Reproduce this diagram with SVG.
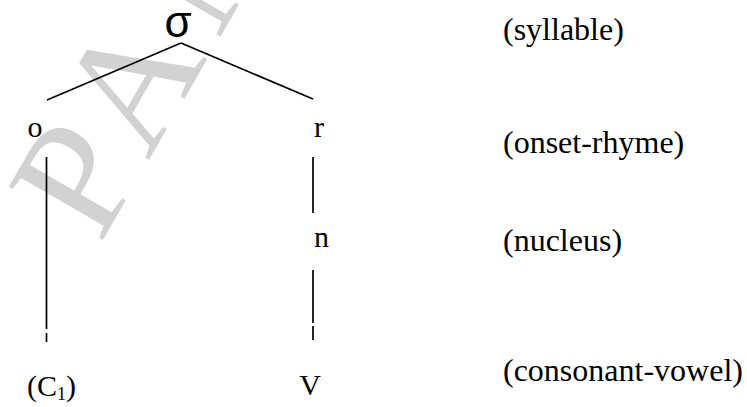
<svg xmlns="http://www.w3.org/2000/svg" width="747" height="407" viewBox="0 0 747 407">
<style>
.lbl{font-family:"Liberation Serif","Times New Roman",serif;font-size:32px;fill:#000}
.tl{font-family:"Liberation Serif","Times New Roman",serif;font-size:30px;fill:#000}
.edge{stroke:#000;stroke-width:1.7;fill:none}
.wm{font-family:"Liberation Serif","Times New Roman",serif;font-size:165px;fill:#d2d2d2}
</style>
<rect width="747" height="407" fill="#fff"/>
<text class="wm" transform="translate(100,245) rotate(-60)" letter-spacing="20">PAN</text>
<g id="connectors">
<line class="edge" x1="181" y1="43" x2="47" y2="100"/>
<line class="edge" x1="181" y1="43" x2="313" y2="99"/>
<line class="edge" x1="46.5" y1="157" x2="46.5" y2="329"/>
<line class="edge" x1="46.5" y1="333" x2="46.5" y2="342"/>
<line class="edge" x1="313" y1="157" x2="313" y2="213"/>
<line class="edge" x1="313" y1="270" x2="313" y2="323"/>
<line class="edge" x1="313" y1="326" x2="313" y2="340"/>
</g>
<g id="node-sigma"><text x="178" y="37" text-anchor="middle" style="font-family:'Liberation Sans',Arial,sans-serif;font-size:44px">σ</text></g>
<g id="node-o"><text class="tl" x="35" y="137" text-anchor="middle">o</text></g>
<g id="node-r"><text class="tl" x="314" y="137">r</text></g>
<g id="node-n"><text class="tl" x="314" y="247">n</text></g>
<g id="node-c1"><text class="tl" x="27" y="396">(C<tspan font-size="18" dy="4">1</tspan><tspan dy="-4">)</tspan></text></g>
<g id="node-v"><text class="tl" x="310" y="395" text-anchor="middle">V</text></g>
<g id="label-syllable"><text class="lbl" x="503" y="39.5">(syllable)</text></g>
<g id="label-onset-rhyme"><text class="lbl" x="503" y="153">(onset-rhyme)</text></g>
<g id="label-nucleus"><text class="lbl" x="503" y="251">(nucleus)</text></g>
<g id="label-consonant-vowel"><text class="lbl" x="503" y="381">(consonant-vowel)</text></g>
</svg>
